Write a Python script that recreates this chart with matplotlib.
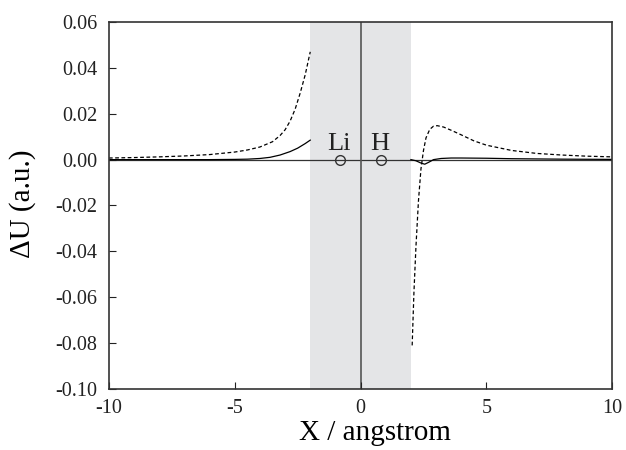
import numpy as np
import matplotlib
matplotlib.use('Agg')
import matplotlib.pyplot as plt

plt.rcParams['font.family'] = ['Liberation Serif', 'DejaVu Serif']
plt.rcParams['axes.unicode_minus'] = False

# dashed curve, left branch (x < -2) and right branch (x > 2)
dash_left_x = [-10, -9, -8, -7, -6, -5, -4.5, -4, -3.5, -3.2, -3, -2.8, -2.6, -2.4, -2.2, -2.0]
dash_left_y = [0.0007, 0.0009, 0.0012, 0.0016, 0.0022, 0.0033, 0.0042, 0.0055, 0.0078, 0.0105, 0.013, 0.0168, 0.022, 0.029, 0.037, 0.047]
dash_right_x = [2.05, 2.12, 2.2, 2.3, 2.4, 2.5, 2.6, 2.75, 2.9, 3.05, 3.3, 3.6, 4.0, 4.5, 5, 6, 7, 8, 9, 10]
dash_right_y = [-0.081, -0.058, -0.038, -0.018, -0.004, 0.004, 0.0095, 0.0132, 0.0146, 0.0148, 0.0142, 0.0128, 0.0108, 0.0082, 0.0063, 0.0040, 0.0027, 0.0020, 0.0015, 0.0012]

# solid curve
solid_left_x = [-10, -6, -5, -4.5, -4, -3.6, -3.2, -2.8, -2.5, -2.2, -2.0]
solid_left_y = [0.0, 0.0, 0.0001, 0.0002, 0.0005, 0.001, 0.002, 0.0035, 0.005, 0.007, 0.0085]
solid_right_x = [2.0, 2.2, 2.4, 2.55, 2.7, 2.9, 3.2, 3.6, 4.0, 5, 6, 8, 10]
solid_right_y = [0.0, -0.0005, -0.0015, -0.002, -0.0012, 0.0, 0.0005, 0.0007, 0.0007, 0.0006, 0.0004, 0.0002, 0.0001]

atom_x = [-0.8, 0.8]
atom_labels = ['Li', 'H']

fig = plt.figure(figsize=(6.26, 4.5), dpi=100)
ax = fig.add_axes([0.174, 0.1356, 0.804, 0.8155])

ax.axvspan(-2, 2, color='#e4e5e7', lw=0, zorder=0)
ax.axhline(0, color='#333333', lw=0.9, zorder=1)
ax.axvline(0, color='#555555', lw=1.2, zorder=1)

ax.plot(dash_left_x, dash_left_y, color='black', lw=0.9, ls=(0, (3, 2)), zorder=2)
ax.plot(dash_right_x, dash_right_y, color='black', lw=0.9, ls=(0, (3, 2)), zorder=2)
ax.plot(solid_left_x, solid_left_y, color='black', lw=0.9, zorder=2)
ax.plot(solid_right_x, solid_right_y, color='black', lw=0.9, zorder=2)

ax.plot(atom_x, [0, 0], 'o', ms=7, mfc='none', mec='#333333', mew=1.0, zorder=3)
for xa, lab in zip(atom_x, atom_labels):
    ax.text(xa - 0.05, 0.0042, lab, fontsize=19, ha='center', va='baseline', color='#222222')

ax.set_xlim(-10, 10)
ax.set_ylim(-0.10, 0.06)
ax.set_xticks([-10, -5, 0, 5, 10])
yt = np.arange(-0.10, 0.061, 0.02)
ax.set_yticks(yt)
ax.set_yticklabels(['%.2f' % v for v in yt])
ax.tick_params(direction='in', length=5, width=0.8, labelsize=14.5, colors='#222222')
ax.tick_params(axis='y', pad=8.5)
ax.tick_params(axis='x', pad=7.5)
for s in ax.spines.values():
    s.set_color('#333333')
    s.set_linewidth(1.2)

ax.set_xlabel('X / angstrom', fontsize=21)
ax.set_ylabel('\u0394U (a.u.)', fontsize=21)
ax.xaxis.set_label_coords(0.529, -0.085)
ax.yaxis.set_label_coords(-0.145, 0.505)

fig.savefig('out.png', dpi=100)
